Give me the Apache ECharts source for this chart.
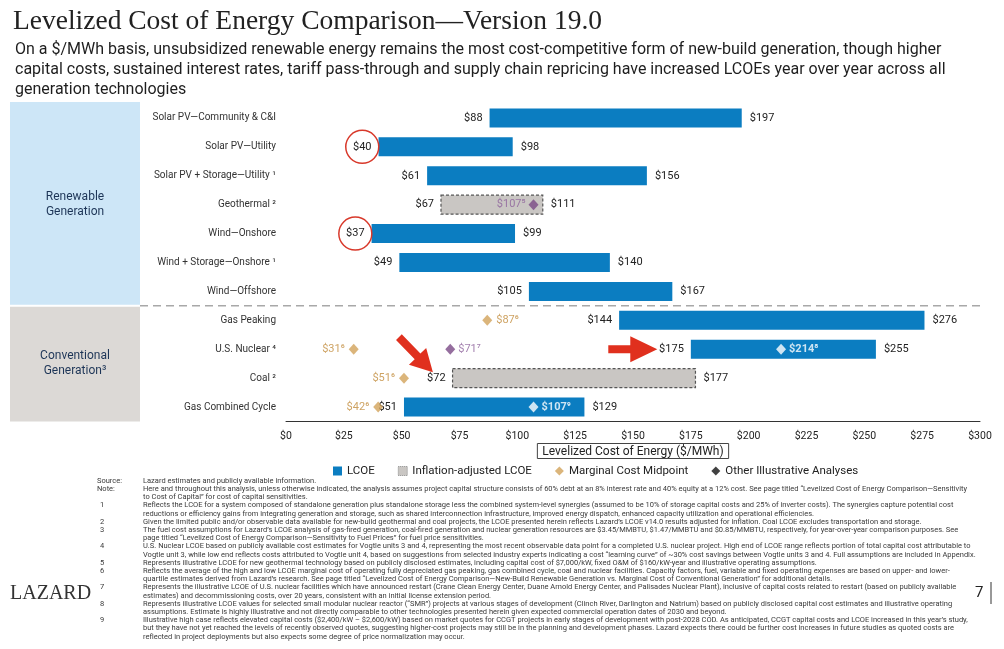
<!DOCTYPE html>
<html>
<head>
<meta charset="utf-8">
<script src="https://cdn.jsdelivr.net/npm/echarts@6/dist/echarts.min.js"></script>
<style>
  html, body { margin: 0; padding: 0; background: #fff; }
  #chart { width: 1004px; height: 649px; }
</style>
</head>
<body>
<div id="chart"></div>
<script>
// ---- data ----
const categories = [
  'Solar PV—Community & C&I', 'Solar PV—Utility', 'Solar PV + Storage—Utility', 'Geothermal',
  'Wind—Onshore', 'Wind + Storage—Onshore', 'Wind—Offshore',
  'Gas Peaking', 'U.S. Nuclear', 'Coal', 'Gas Combined Cycle'
];
const categoryNotes = ['', '', '1', '2', '', '1', '', '', '4', '2', ''];
const lcoeLow  = [88, 40, 61, null, 37, 49, 105, 144, 175, null, 51];
const lcoeHigh = [197, 98, 156, null, 99, 140, 167, 276, 255, null, 129];
const inflLow  = [null, null, null, 67, null, null, null, null, null, 72, null];
const inflHigh = [null, null, null, 111, null, null, null, null, null, 177, null];
const marginalCats   = ['Gas Peaking', 'U.S. Nuclear', 'Coal', 'Gas Combined Cycle'];
const marginalValues = [87, 31, 51, 42];
const marginalNotes  = ['6', '6', '6', '6'];
const otherCats   = ['Geothermal', 'U.S. Nuclear', 'U.S. Nuclear', 'Gas Combined Cycle'];
const otherValues = [107, 71, 214, 107];
const otherNotes  = ['5', '7', '8', '9'];
const circledLows = ['Solar PV—Utility', 'Wind—Onshore'];

const footnotes = [
  ['Source:', 'Lazard estimates and publicly available information.'],
  ['Note:', 'Here and throughout this analysis, unless otherwise indicated, the analysis assumes project capital structure consists of 60% debt at an 8% interest rate and 40% equity at a 12% cost. See page titled \u201cLevelized Cost of Energy Comparison\u2014Sensitivity'],
  ['', 'to Cost of Capital\u201d for cost of capital sensitivities.'],
  ['1', 'Reflects the LCOE for a system composed of standalone generation plus standalone storage less the combined system-level synergies (assumed to be 10% of storage capital costs and 25% of inverter costs). The synergies capture potential cost'],
  ['', 'reductions or efficiency gains from integrating generation and storage, such as shared interconnection infrastructure, improved energy dispatch, enhanced capacity utilization and operational efficiencies.'],
  ['2', 'Given the limited public and/or observable data available for new-build geothermal and coal projects, the LCOE presented herein reflects Lazard\u2019s LCOE v14.0 results adjusted for inflation. Coal LCOE excludes transportation and storage.'],
  ['3', 'The fuel cost assumptions for Lazard\u2019s LCOE analysis of gas-fired generation, coal-fired generation and nuclear generation resources are $3.45/MMBTU, $1.47/MMBTU and $0.85/MMBTU, respectively, for year-over-year comparison purposes. See'],
  ['', 'page titled \u201cLevelized Cost of Energy Comparison\u2014Sensitivity to Fuel Prices\u201d for fuel price sensitivities.'],
  ['4', 'U.S. Nuclear LCOE based on publicly available cost estimates for Vogtle units 3 and 4, representing the most recent observable data point for a completed U.S. nuclear project. High end of LCOE range reflects portion of total capital cost attributable to'],
  ['', 'Vogtle unit 3, while low end reflects costs attributed to Vogtle unit 4, based on suggestions from selected industry experts indicating a cost \u201clearning curve\u201d of ~30% cost savings between Vogtle units 3 and 4. Full assumptions are included in Appendix.'],
  ['5', 'Represents illustrative LCOE for new geothermal technology based on publicly disclosed estimates, including capital cost of $7,000/kW, fixed O&M of $160/kW-year and illustrative operating assumptions.'],
  ['6', 'Reflects the average of the high and low LCOE marginal cost of operating fully depreciated gas peaking, gas combined cycle, coal and nuclear facilities. Capacity factors, fuel, variable and fixed operating expenses are based on upper- and lower-'],
  ['', 'quartile estimates derived from Lazard\u2019s research. See page titled \u201cLevelized Cost of Energy Comparison\u2014New-Build Renewable Generation vs. Marginal Cost of Conventional Generation\u201d for additional details.'],
  ['7', 'Represents the illustrative LCOE of U.S. nuclear facilities which have announced restart (Crane Clean Energy Center, Duane Arnold Energy Center, and Palisades Nuclear Plant), inclusive of capital costs related to restart (based on publicly available'],
  ['', 'estimates) and decommissioning costs, over 20 years, consistent with an initial license extension period.'],
  ['8', 'Represents illustrative LCOE values for selected small modular nuclear reactor (\u201cSMR\u201d) projects at various stages of development (Clinch River, Darlington and Natrium) based on publicly disclosed capital cost estimates and illustrative operating'],
  ['', 'assumptions. Estimate is highly illustrative and not directly comparable to other technologies presented herein given expected commercial operation dates of 2030 and beyond.'],
  ['9', 'Illustrative high case reflects elevated capital costs ($2,400/kW \u2013 $2,600/kW) based on market quotes for CCGT projects in early stages of development with post-2028 COD. As anticipated, CCGT capital costs and LCOE increased in this year\u2019s study,'],
  ['', 'but they have not yet reached the levels of recently observed quotes, suggesting higher-cost projects may still be in the planning and development phases. Lazard expects there could be further cost increases in future studies as quoted costs are'],
  ['', 'reflected in project deployments but also expects some degree of price normalization may occur.']
];

const LCOE_COLOR = '#0b7dc1';
const INFL_COLOR = '#c9c6c3';
const GOLD = '#d2a25a';
const GOLD_TEXT = '#c28c3c';
const PURPLE = '#7a4a86';
const PURPLE_TEXT = '#8d619b';
const SANS = 'Roboto';

const SUP = {'1': '\u00b9', '2': '\u00b2', '3': '\u00b3', '4': '\u2074', '5': '\u2075',
             '6': '\u2076', '7': '\u2077', '8': '\u2078', '9': '\u2079'};
const sup = n => n ? n.split('').map(c => SUP[c]).join('') : '';

const measureCtx = document.createElement('canvas').getContext('2d');
function textWidth(t, font) { measureCtx.font = font; return measureCtx.measureText(t).width; }

const rangeData = (lows, highs) => lows
  .map((lo, i) => lo == null ? null : [lo, highs[i], i])
  .filter(d => d);

const VALUE_FONT = '11px ' + SANS;

function rangeRenderer(kind) {
  return function (params, api) {
    const lo = api.value(0), hi = api.value(1), idx = api.value(2);
    const p0 = api.coord([lo, idx]);
    const p1 = api.coord([hi, idx]);
    const h = 19;
    const rectStyle = kind === 'lcoe'
      ? {fill: LCOE_COLOR}
      : {fill: INFL_COLOR, stroke: '#555', lineWidth: 1.2, lineDash: [3, 2]};
    const children = [
      {type: 'rect', shape: {x: p0[0], y: p0[1] - h / 2, width: p1[0] - p0[0], height: h}, style: rectStyle},
      {type: 'text', x: p0[0] - 7, y: p0[1],
        style: {text: '$' + lo, textAlign: 'right', textVerticalAlign: 'middle', fill: '#222', font: VALUE_FONT}},
      {type: 'text', x: p1[0] + 8, y: p1[1],
        style: {text: '$' + hi, textAlign: 'left', textVerticalAlign: 'middle', fill: '#222', font: VALUE_FONT}}
    ];
    if (circledLows.indexOf(categories[idx]) !== -1) {
      const tw = textWidth('$' + lo, VALUE_FONT);
      children.push({type: 'circle', shape: {cx: p0[0] - 7 - tw / 2, cy: p0[1], r: 16.5},
        style: {fill: 'none', stroke: '#d8392b', lineWidth: 1.5}});
    }
    return {type: 'group', children: children};
  };
}

// label side and small nudges, as on the slide
const marginalSide = {'Gas Peaking': 'right'};
const marginalNudge = {'U.S. Nuclear': -4, 'Gas Combined Cycle': -5};
const marginalData = marginalValues.map((v, i) => ({
  value: [v, marginalCats[i]],
  symbolOffset: [marginalNudge[marginalCats[i]] || 0, 0],
  label: {position: marginalSide[marginalCats[i]] || 'left',
          formatter: '$' + v + sup(marginalNotes[i])}
}));
const otherData = otherValues.map((v, i) => {
  const inBar = otherNotes[i] === '8' || otherNotes[i] === '9';
  return {
    value: [v, otherCats[i]],
    itemStyle: {color: inBar ? '#fff' : PURPLE},
    label: {
      position: otherNotes[i] === '5' ? 'left' : 'right',
      color: inBar ? '#fff' : PURPLE_TEXT,
      fontWeight: inBar ? 'bold' : 'normal',
      formatter: '$' + v + sup(otherNotes[i])
    }
  };
});

const chart = echarts.init(document.getElementById('chart'));

const option = {
  animation: false,
  title: [
    {text: 'Levelized Cost of Energy Comparison\u2014Version 19.0', left: 8, top: 3,
     textStyle: {fontFamily: 'Liberation Serif', fontSize: 27.5, fontWeight: 'normal', color: '#222'}},
    {text: 'On a $/MWh basis, unsubsidized renewable energy remains the most cost-competitive form of new-build generation, though higher\n' +
           'capital costs, sustained interest rates, tariff pass-through and supply chain repricing have increased LCOEs year over year across all\n' +
           'generation technologies',
     left: 10, top: 35,
     textStyle: {fontFamily: SANS, fontSize: 16, fontWeight: 'normal', color: '#1e1e1e', lineHeight: 20}}
  ],
  grid: {left: 286, right: 24, top: 103.5, height: 318, containLabel: false},
  legend: {
    left: 333, top: 465, itemWidth: 9, itemHeight: 9, itemGap: 23, padding: 0,
    textStyle: {fontFamily: SANS, fontSize: 11.5, color: '#222'},
    selectedMode: false,
    data: [
      {name: 'LCOE', icon: 'rect', itemStyle: {color: LCOE_COLOR}},
      {name: 'Inflation-adjusted LCOE', icon: 'rect',
       itemStyle: {color: INFL_COLOR, borderColor: '#888', borderWidth: 1, borderType: 'dotted'}},
      {name: 'Marginal Cost Midpoint', icon: 'diamond', itemStyle: {color: GOLD}},
      {name: 'Other Illustrative Analyses', icon: 'diamond', itemStyle: {color: '#111'}}
    ]
  },
  xAxis: {
    type: 'value', min: 0, max: 300, interval: 25,
    axisLine: {show: true, lineStyle: {color: '#333', width: 1}},
    axisTick: {show: false},
    splitLine: {show: false},
    axisLabel: {formatter: v => '$' + v, fontFamily: SANS, fontSize: 10.5, color: '#222', margin: 9},
    name: 'Levelized Cost of Energy ($/MWh)',
    nameLocation: 'middle', nameGap: 22,
    nameTextStyle: {fontFamily: SANS, fontSize: 12, color: '#222',
      borderColor: '#444', borderWidth: 1, padding: [2, 5, 1, 5]}
  },
  yAxis: {
    type: 'category', data: categories, inverse: true,
    axisLine: {show: false}, axisTick: {show: false},
    axisLabel: {
      margin: 10, fontFamily: SANS, fontSize: 10, color: '#333',
      formatter: (v, i) => categoryNotes[i] ? v + ' ' + sup(categoryNotes[i]) : v
    }
  },
  series: [
    {name: 'LCOE', type: 'custom', renderItem: rangeRenderer('lcoe'),
     itemStyle: {color: LCOE_COLOR},
     encode: {x: [0, 1], y: 2}, data: rangeData(lcoeLow, lcoeHigh), z: 2},
    {name: 'Inflation-adjusted LCOE', type: 'custom', renderItem: rangeRenderer('infl'),
     itemStyle: {color: INFL_COLOR},
     encode: {x: [0, 1], y: 2}, data: rangeData(inflLow, inflHigh), z: 2},
    {name: 'Marginal Cost Midpoint', type: 'scatter', symbol: 'diamond', symbolSize: [10, 11],
     itemStyle: {color: GOLD}, z: 5,
     label: {show: true, distance: 4, fontFamily: SANS, fontSize: 11, color: GOLD_TEXT},
     data: marginalData},
    {name: 'Other Illustrative Analyses', type: 'scatter', symbol: 'diamond', symbolSize: [10, 11],
     itemStyle: {color: PURPLE}, z: 5,
     label: {show: true, distance: 3, fontFamily: SANS, fontSize: 11},
     data: otherData}
  ]
};

chart.setOption(option);

// ---- annotations placed from the axes ----
const toPx = (v, cat) => chart.convertToPixel({gridIndex: 0}, [v, cat]);
const band = toPx(0, categories[1])[1] - toPx(0, categories[0])[1];
const gridTop = toPx(0, categories[0])[1] - band / 2;
const gridBottom = toPx(0, categories[categories.length - 1])[1] + band / 2;
const sepY = (toPx(0, categories[6])[1] + toPx(0, categories[7])[1]) / 2;
const xEnd = toPx(300, categories[0])[0];

function arrowPoints(tail, tip, shaftW, headW, headL) {
  const dx = tip[0] - tail[0], dy = tip[1] - tail[1];
  const len = Math.hypot(dx, dy);
  const ux = dx / len, uy = dy / len, nx = -uy, ny = ux;
  const bx = tip[0] - ux * headL, by = tip[1] - uy * headL;
  return [
    [tail[0] + nx * shaftW / 2, tail[1] + ny * shaftW / 2],
    [bx + nx * shaftW / 2, by + ny * shaftW / 2],
    [bx + nx * headW / 2, by + ny * headW / 2],
    tip,
    [bx - nx * headW / 2, by - ny * headW / 2],
    [bx - nx * shaftW / 2, by - ny * shaftW / 2],
    [tail[0] - nx * shaftW / 2, tail[1] - ny * shaftW / 2]
  ];
}

const coalTip = toPx(63.5, 'Coal'); coalTip[1] -= 6;
const nucTip = toPx(160.5, 'U.S. Nuclear');

const graphics = [
  {type: 'rect', shape: {x: 10, y: gridTop - 1.5, width: 130, height: sepY - gridTop + 0.5},
   style: {fill: '#cde6f7'}, z: 0},
  {type: 'rect', shape: {x: 10, y: sepY + 1, width: 130, height: gridBottom - sepY - 1},
   style: {fill: '#dcd9d6'}, z: 0},
  {type: 'text', x: 75, y: (gridTop + sepY) / 2, z: 1,
   style: {text: 'Renewable\nGeneration', textAlign: 'center', textVerticalAlign: 'middle',
           font: '12px ' + SANS, lineHeight: 15, fill: '#1d3557'}},
  {type: 'text', x: 75, y: (sepY + gridBottom) / 2, z: 1,
   style: {text: 'Conventional\nGeneration' + sup('3'), textAlign: 'center', textVerticalAlign: 'middle',
           font: '12px ' + SANS, lineHeight: 15, fill: '#1d3557'}},
  {type: 'line', shape: {x1: 140, y1: sepY, x2: xEnd, y2: sepY}, z: 1,
   style: {stroke: '#a8a8a8', lineWidth: 1.5, lineDash: [8, 5]}},
  {type: 'polygon', z: 10, shape: {points: arrowPoints([coalTip[0] - 34, coalTip[1] - 35], coalTip, 8, 24, 22)},
   style: {fill: '#e0301e'}},
  {type: 'polygon', z: 10, shape: {points: arrowPoints([nucTip[0] - 49, nucTip[1]], nucTip, 8, 26, 27)},
   style: {fill: '#e0301e'}},
  {type: 'text', x: 10, y: 594,
   style: {text: 'LAZARD', font: '20px "Liberation Serif"', fill: '#333', textVerticalAlign: 'middle'}},
  {type: 'text', x: 975, y: 593,
   style: {text: '7', font: '15px ' + SANS, fill: '#222', textVerticalAlign: 'middle'}},
  {type: 'line', shape: {x1: 991, y1: 582, x2: 991, y2: 604}, style: {stroke: '#333', lineWidth: 1}}
];

const FOOT_FONT = '7.5px ' + SANS;
footnotes.forEach((row, i) => {
  const y = 481 + i * 8.2;
  if (row[0]) {
    graphics.push({type: 'text', x: row[0].length > 1 ? 97 : 100, y: y,
      style: {text: row[0], font: FOOT_FONT, fill: '#3a3a3a', textVerticalAlign: 'middle'}});
  }
  graphics.push({type: 'text', x: 143, y: y,
    style: {text: row[1], font: FOOT_FONT, fill: '#3a3a3a', textVerticalAlign: 'middle'}});
});

chart.setOption({graphic: graphics});
</script>
</body>
</html>
